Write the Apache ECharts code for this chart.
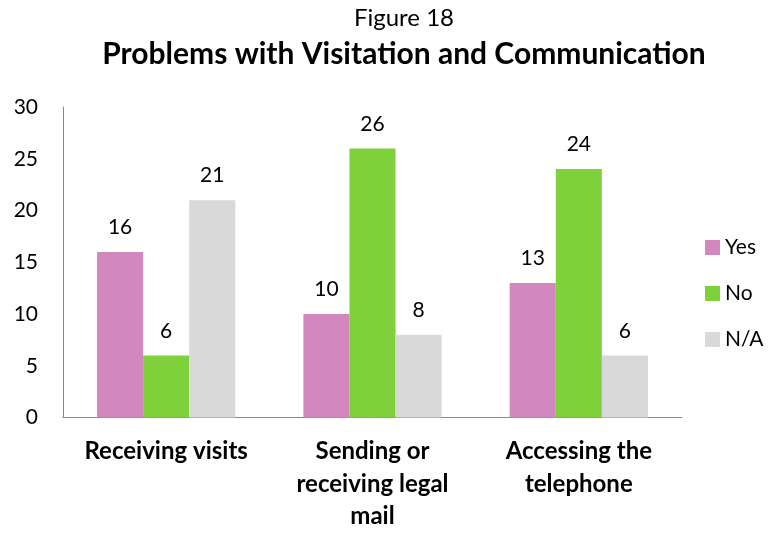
<!DOCTYPE html>
<html>
<head>
<meta charset="utf-8">
<script src="https://cdn.jsdelivr.net/npm/echarts@6/dist/echarts.min.js"></script>
<style>html,body{margin:0;padding:0;background:#fff}#c{width:769px;height:533px}</style>
</head>
<body>
<div id="c"></div>
<script>
var categories = ["Receiving visits", "Sending or\nreceiving legal\nmail", "Accessing the\ntelephone"];
var seriesNames = ["Yes", "No", "N/A"];
var yesValues = [16, 10, 13];
var noValues = [6, 26, 24];
var naValues = [21, 8, 6];
var colors = ["#D287BE", "#7FD13B", "#D9D9D9"];
var yTicks = { min: 0, max: 30, interval: 5 };

var FONT = "Lato";
var chart = echarts.init(document.getElementById('c'), null, { renderer: 'canvas' });
function bar(name, data, color) {
  return {
    name: name, type: 'bar', data: data,
    barGap: '0%', barCategoryGap: '33%',
    itemStyle: { color: color },
    label: { show: true, position: 'top', distance: 14, color: '#000', fontFamily: FONT, fontSize: 21 },
    emphasis: { disabled: true }
  };
}
chart.setOption({
  animation: false,
  textStyle: { fontFamily: FONT },
  title: [
    { text: 'Figure 18', left: 404, textAlign: 'center', top: 6, padding: 0,
      textStyle: { fontFamily: FONT, fontWeight: 'normal', fontSize: 24, color: '#000' } },
    { text: 'Problems with Visitation and Communication', left: 404, textAlign: 'center', top: 39, padding: 0,
      textStyle: { fontFamily: FONT, fontWeight: 'bold', fontSize: 30, color: '#000' } }
  ],
  legend: {
    orient: 'vertical', left: 705, top: 237, padding: 0,
    itemWidth: 15, itemHeight: 15, itemGap: 25,
    icon: 'rect',
    data: seriesNames,
    textStyle: { fontFamily: FONT, fontSize: 21, lineHeight: 21, color: '#000' }
  },
  grid: { left: 63, right: 87, top: 107, bottom: 111, containLabel: false },
  xAxis: {
    type: 'category', data: categories,
    axisLine: { show: true, lineStyle: { color: '#898989', width: 1 } },
    axisTick: { show: false },
    axisLabel: { margin: 18, fontFamily: FONT, fontSize: 24, fontWeight: 'bold', lineHeight: 32.5, color: '#000', interval: 0 }
  },
  yAxis: {
    type: 'value', min: yTicks.min, max: yTicks.max, interval: yTicks.interval,
    splitLine: { show: false },
    axisLine: { show: true, lineStyle: { color: '#898989', width: 1 } },
    axisTick: { show: false },
    axisLabel: { margin: 25, fontFamily: FONT, fontSize: 21, color: '#000' }
  },
  series: [
    bar(seriesNames[0], yesValues, colors[0]),
    bar(seriesNames[1], noValues, colors[1]),
    bar(seriesNames[2], naValues, colors[2])
  ]
});
</script>
</body>
</html>
